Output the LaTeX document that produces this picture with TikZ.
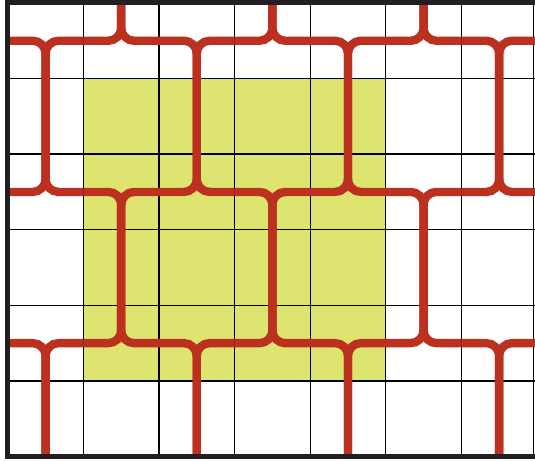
\documentclass[tikz,border=0pt]{standalone}
\definecolor{weavered}{RGB}{187,48,30}
\definecolor{patchyellow}{RGB}{222,228,112}
\definecolor{framegray}{RGB}{35,31,32}
\begin{document}
\begin{tikzpicture}[x=2cm, y=2cm,
  thread/.style={line width=6.3pt, draw=weavered, rounded corners=0.34cm},
  cellline/.style={line width=1pt, black}]
  \useasboundingbox (-0.103,-0.046) rectangle (6.974,6.039);
  \fill[patchyellow] (1,1) rectangle (5,5);
  \foreach \i in {1,...,6} \draw[cellline] (\i,0) -- (\i,6);
  \draw[cellline] (6.955,0) -- (6.955,6);
  \foreach \j in {1,...,5} \draw[cellline] (0,\j) -- (7.1,\j);
  \foreach \x in {1.5,3.5,5.5} {
    \draw[thread] (\x-0.5,5.5) -- (\x,5.5) -- (\x,6);
    \draw[thread] (\x+0.5,5.5) -- (\x,5.5) -- (\x,6);
    \draw[thread] (\x-0.5,3.5) -- (\x,3.5) -- (\x,1.5) -- (\x-0.5,1.5);
    \draw[thread] (\x+0.5,3.5) -- (\x,3.5) -- (\x,1.5) -- (\x+0.5,1.5);
  }
  \foreach \x in {0.5,2.5,4.5,6.5} {
    \draw[thread] (\x-0.5,5.5) -- (\x,5.5) -- (\x,3.5) -- (\x-0.5,3.5);
    \draw[thread] (\x+0.5,5.5) -- (\x,5.5) -- (\x,3.5) -- (\x+0.5,3.5);
    \draw[thread] (\x-0.5,1.5) -- (\x,1.5) -- (\x,0);
    \draw[thread] (\x+0.5,1.5) -- (\x,1.5) -- (\x,0);
  }
  \draw[line width=3.8pt, framegray] (7.1,6) -- (0,6) -- (0,0) -- (7.1,0);
\end{tikzpicture}
\end{document}
